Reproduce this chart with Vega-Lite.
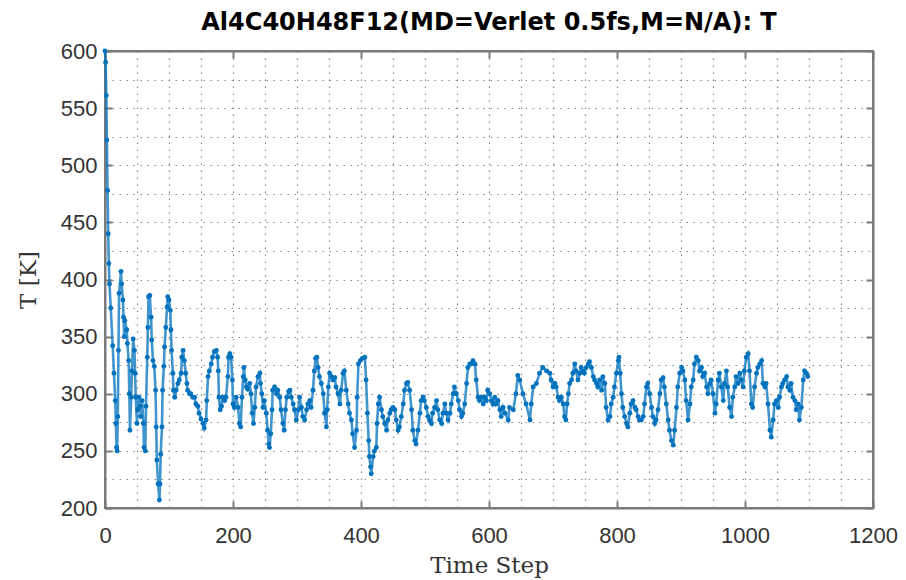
{
"$schema": "https://vega.github.io/schema/vega-lite/v6.json",
"width": 768, "height": 457,
"autosize": {"type": "none"},
"padding": {"left": 105, "top": 51, "right": 33, "bottom": 72},
"background": "white",
"title": {"text": "Al4C40H48F12(MD=Verlet 0.5fs,M=N/A): T", "font": "DejaVu Sans", "fontSize": 24, "fontWeight": "bold", "color": "#000000", "offset": 5, "anchor": "middle"},
"config": {"view": {"stroke": "#7a7a7a", "strokeWidth": 2}},
"data": {"values": [
{"s":0,"T":600},{"s":1,"T":590},{"s":2,"T":561},{"s":3,"T":522},{"s":4,"T":478},{"s":5,"T":440},{"s":6,"T":414},{"s":7,"T":396},{"s":9,"T":375},{"s":12,"T":342},{"s":14,"T":318},{"s":16,"T":294},{"s":17,"T":274},{"s":18,"T":253},{"s":19,"T":250},{"s":20,"T":280},{"s":21,"T":338},{"s":22,"T":388},{"s":25,"T":407},{"s":26,"T":396},{"s":28,"T":382},{"s":29,"T":367},{"s":30,"T":350},{"s":31,"T":364},{"s":34,"T":356},{"s":35,"T":344},{"s":37,"T":329},{"s":38,"T":300},{"s":39,"T":268},{"s":41,"T":297},{"s":42,"T":320},{"s":44,"T":348},{"s":46,"T":338},{"s":47,"T":318},{"s":48,"T":297},{"s":50,"T":274},{"s":51,"T":286},{"s":53,"T":297},{"s":55,"T":289},{"s":56,"T":280},{"s":58,"T":294},{"s":60,"T":274},{"s":61,"T":253},{"s":63,"T":250},{"s":64,"T":289},{"s":66,"T":332},{"s":67,"T":358},{"s":68,"T":385},{"s":70,"T":386},{"s":72,"T":367},{"s":73,"T":347},{"s":75,"T":329},{"s":77,"T":324},{"s":79,"T":303},{"s":80,"T":271},{"s":81,"T":242},{"s":83,"T":221},{"s":85,"T":207},{"s":86,"T":221},{"s":87,"T":247},{"s":89,"T":271},{"s":90,"T":303},{"s":92,"T":324},{"s":93,"T":341},{"s":95,"T":358},{"s":97,"T":376},{"s":98,"T":385},{"s":100,"T":382},{"s":102,"T":373},{"s":103,"T":356},{"s":104,"T":338},{"s":106,"T":318},{"s":107,"T":303},{"s":109,"T":297},{"s":111,"T":303},{"s":114,"T":309},{"s":116,"T":312},{"s":119,"T":318},{"s":120,"T":332},{"s":122,"T":338},{"s":124,"T":329},{"s":126,"T":318},{"s":128,"T":309},{"s":129,"T":303},{"s":132,"T":300},{"s":134,"T":300},{"s":137,"T":297},{"s":140,"T":297},{"s":142,"T":291},{"s":145,"T":289},{"s":147,"T":283},{"s":150,"T":278},{"s":153,"T":274},{"s":155,"T":270},{"s":158,"T":277},{"s":159,"T":294},{"s":161,"T":315},{"s":163,"T":320},{"s":166,"T":326},{"s":168,"T":332},{"s":171,"T":337},{"s":174,"T":338},{"s":176,"T":332},{"s":177,"T":320},{"s":178,"T":297},{"s":180,"T":286},{"s":182,"T":289},{"s":184,"T":297},{"s":187,"T":294},{"s":189,"T":297},{"s":192,"T":315},{"s":193,"T":332},{"s":195,"T":335},{"s":197,"T":332},
{"s":199,"T":312},{"s":200,"T":291},{"s":202,"T":288},{"s":205,"T":297},{"s":208,"T":288},{"s":210,"T":274},{"s":212,"T":271},{"s":214,"T":297},{"s":216,"T":315},{"s":217,"T":323},{"s":219,"T":312},{"s":221,"T":306},{"s":223,"T":304},{"s":226,"T":309},{"s":228,"T":300},{"s":230,"T":283},{"s":232,"T":274},{"s":234,"T":288},{"s":236,"T":306},{"s":239,"T":315},{"s":242,"T":318},{"s":243,"T":309},{"s":245,"T":300},{"s":247,"T":288},{"s":249,"T":294},{"s":252,"T":283},{"s":254,"T":268},{"s":256,"T":256},{"s":257,"T":253},{"s":259,"T":265},{"s":261,"T":286},{"s":262,"T":303},{"s":265,"T":306},{"s":268,"T":300},{"s":270,"T":303},{"s":273,"T":297},{"s":275,"T":286},{"s":278,"T":274},{"s":280,"T":268},{"s":282,"T":286},{"s":284,"T":297},{"s":287,"T":302},{"s":289,"T":303},{"s":291,"T":297},{"s":294,"T":291},{"s":296,"T":286},{"s":299,"T":277},{"s":302,"T":286},{"s":304,"T":297},{"s":307,"T":288},{"s":309,"T":280},{"s":312,"T":277},{"s":315,"T":286},{"s":317,"T":291},{"s":320,"T":294},{"s":322,"T":288},{"s":325,"T":303},{"s":327,"T":320},{"s":329,"T":331},{"s":331,"T":332},{"s":333,"T":323},{"s":335,"T":315},{"s":338,"T":309},{"s":341,"T":300},{"s":343,"T":283},{"s":346,"T":271},{"s":347,"T":286},{"s":349,"T":306},{"s":351,"T":318},{"s":354,"T":315},{"s":356,"T":312},{"s":359,"T":314},{"s":361,"T":306},{"s":364,"T":300},{"s":367,"T":291},{"s":369,"T":303},{"s":372,"T":318},{"s":374,"T":320},{"s":377,"T":303},{"s":380,"T":291},{"s":382,"T":283},{"s":385,"T":277},{"s":387,"T":265},{"s":390,"T":253},{"s":393,"T":268},{"s":394,"T":297},{"s":396,"T":326},{"s":399,"T":329},{"s":402,"T":331},
{"s":406,"T":332},{"s":408,"T":312},{"s":410,"T":283},{"s":412,"T":259},{"s":413,"T":245},{"s":415,"T":236},{"s":416,"T":230},{"s":419,"T":245},{"s":421,"T":250},{"s":424,"T":253},{"s":425,"T":274},{"s":427,"T":291},{"s":429,"T":297},{"s":432,"T":286},{"s":434,"T":280},{"s":437,"T":274},{"s":440,"T":268},{"s":442,"T":277},{"s":445,"T":283},{"s":447,"T":286},{"s":450,"T":288},{"s":453,"T":286},{"s":455,"T":277},{"s":458,"T":268},{"s":460,"T":271},{"s":463,"T":280},{"s":466,"T":291},{"s":468,"T":303},{"s":471,"T":309},{"s":473,"T":310},{"s":476,"T":303},{"s":479,"T":286},{"s":481,"T":268},{"s":484,"T":259},{"s":486,"T":256},{"s":489,"T":268},{"s":492,"T":283},{"s":494,"T":294},{"s":497,"T":297},{"s":499,"T":294},{"s":502,"T":288},{"s":505,"T":280},{"s":507,"T":277},{"s":510,"T":274},{"s":512,"T":283},{"s":515,"T":288},{"s":518,"T":294},{"s":520,"T":286},{"s":523,"T":277},{"s":526,"T":274},{"s":528,"T":283},{"s":531,"T":291},{"s":533,"T":283},{"s":536,"T":277},{"s":539,"T":283},{"s":541,"T":291},{"s":544,"T":300},{"s":546,"T":306},{"s":549,"T":300},{"s":552,"T":294},{"s":554,"T":286},{"s":557,"T":280},{"s":559,"T":283},{"s":562,"T":291},{"s":565,"T":309},{"s":567,"T":323},{"s":570,"T":326},{"s":572,"T":326},{"s":575,"T":329},{"s":578,"T":326},{"s":580,"T":312},{"s":583,"T":297},{"s":585,"T":294},{"s":588,"T":297},{"s":591,"T":291},{"s":593,"T":297},{"s":596,"T":294},{"s":598,"T":303},{"s":601,"T":300},{"s":604,"T":294},{"s":606,"T":291},{"s":609,"T":297},{"s":611,"T":291},{"s":614,"T":294},{"s":617,"T":286},{"s":619,"T":280},{"s":622,"T":288},{"s":625,"T":283},{"s":630,"T":277},{"s":632,"T":288},{"s":638,"T":286},{"s":642,"T":300},{"s":645,"T":316},{"s":648,"T":312},{"s":653,"T":300},{"s":658,"T":291},{"s":664,"T":277},{"s":666,"T":291},{"s":669,"T":306},{"s":674,"T":309},{"s":679,"T":318},{"s":684,"T":323},{"s":690,"T":320},{"s":695,"T":318},
{"s":697,"T":312},{"s":700,"T":306},{"s":703,"T":309},{"s":705,"T":306},{"s":708,"T":297},{"s":710,"T":294},{"s":713,"T":297},{"s":716,"T":291},{"s":718,"T":280},{"s":720,"T":277},{"s":722,"T":291},{"s":724,"T":300},{"s":726,"T":309},{"s":729,"T":312},{"s":731,"T":318},{"s":734,"T":326},{"s":736,"T":320},{"s":739,"T":312},{"s":742,"T":318},{"s":744,"T":323},{"s":747,"T":320},{"s":749,"T":318},{"s":752,"T":323},{"s":755,"T":326},{"s":757,"T":328},{"s":760,"T":323},{"s":763,"T":315},{"s":765,"T":312},{"s":768,"T":309},{"s":770,"T":306},{"s":773,"T":312},{"s":776,"T":303},{"s":778,"T":315},{"s":781,"T":309},{"s":783,"T":288},{"s":786,"T":277},{"s":789,"T":280},{"s":791,"T":291},{"s":794,"T":297},{"s":796,"T":306},{"s":799,"T":318},{"s":802,"T":329},{"s":803,"T":332},{"s":805,"T":318},{"s":807,"T":300},{"s":809,"T":288},{"s":812,"T":280},{"s":815,"T":274},{"s":817,"T":271},{"s":820,"T":283},{"s":822,"T":291},{"s":825,"T":294},{"s":828,"T":288},{"s":830,"T":286},{"s":833,"T":280},{"s":835,"T":277},{"s":838,"T":277},{"s":841,"T":280},{"s":843,"T":291},{"s":846,"T":306},{"s":848,"T":309},{"s":851,"T":300},{"s":854,"T":288},{"s":856,"T":280},{"s":859,"T":274},{"s":861,"T":277},{"s":864,"T":286},{"s":867,"T":300},{"s":869,"T":312},{"s":872,"T":314},{"s":874,"T":306},{"s":877,"T":291},{"s":880,"T":277},{"s":882,"T":268},{"s":885,"T":259},{"s":888,"T":255},{"s":890,"T":268},{"s":893,"T":288},{"s":895,"T":306},{"s":898,"T":318},{"s":901,"T":323},{"s":903,"T":320},{"s":906,"T":312},{"s":908,"T":294},{"s":911,"T":277},{"s":914,"T":291},{"s":916,"T":306},{"s":919,"T":312},{"s":921,"T":326},{"s":924,"T":332},{"s":927,"T":329},{"s":929,"T":320},{"s":932,"T":323},{"s":934,"T":315},{"s":937,"T":318},{"s":940,"T":306},{"s":942,"T":300},{"s":945,"T":309},{"s":947,"T":312},{"s":950,"T":300},{"s":953,"T":283},{"s":955,"T":291},{"s":958,"T":312},{"s":960,"T":318},{"s":963,"T":306},{"s":966,"T":294},{"s":968,"T":309},{"s":971,"T":320},{"s":973,"T":306},{"s":976,"T":288},{"s":979,"T":280},{"s":981,"T":297},{"s":984,"T":306},{"s":986,"T":315},{"s":989,"T":309},{"s":992,"T":318},{"s":994,"T":312},{"s":997,"T":306},{"s":999,"T":320},{"s":1002,"T":332},{"s":1005,"T":335},{"s":1007,"T":320},{"s":1010,"T":291},{"s":1012,"T":288},{"s":1015,"T":306},{"s":1018,"T":318},{"s":1020,"T":323},{"s":1023,"T":326},{"s":1026,"T":329},{"s":1028,"T":309},{"s":1031,"T":306},{"s":1033,"T":309},{"s":1036,"T":291},{"s":1039,"T":268},{"s":1041,"T":262},{"s":1044,"T":277},{"s":1046,"T":291},{"s":1049,"T":294},{"s":1052,"T":288},{"s":1054,"T":297},{"s":1057,"T":306},{"s":1059,"T":309},{"s":1062,"T":312},{"s":1065,"T":315},{"s":1067,"T":306},{"s":1070,"T":303},{"s":1072,"T":309},{"s":1075,"T":297},{"s":1078,"T":294},{"s":1080,"T":286},{"s":1083,"T":291},{"s":1085,"T":277},{"s":1088,"T":288},{"s":1091,"T":312},{"s":1093,"T":320},{"s":1096,"T":318},{"s":1098,"T":315}
]},
"resolve": {"axis": {"x": "independent", "y": "independent"}},
"layer": [
{"mark": {"type": "line", "color": "#0072BD", "strokeWidth": 2.6, "opacity": 0.75, "point": {"filled": true, "size": 24, "color": "#0072BD", "opacity": 1}},
 "encoding": {
  "x": {"field": "s", "type": "quantitative", "scale": {"domain": [0, 1200], "nice": false},
   "axis": {"orient": "bottom", "values": [0,50,100,150,200,250,300,350,400,450,500,550,600,650,700,750,800,850,900,950,1000,1050,1100,1150,1200], "format": "d", "labelExpr": "datum.value % 200 === 0 ? datum.label : ''", "labelOverlap": false, "labelFlush": false, "grid": true, "gridDash": [1.5, 5.5], "gridColor": "#8a8a8a", "gridWidth": 1.2, "tickSize": -7, "tickWidth": 2, "tickColor": "#7a7a7a", "tickOpacity": {"condition": {"test": "datum.value % 200 === 0", "value": 1}, "value": 0}, "domainColor": "#7a7a7a", "domainWidth": 2, "labelFont": "Liberation Sans", "labelFontSize": 22, "labelColor": "#333333", "labelPadding": 24, "title": "Time Step", "titleFont": "DejaVu Serif", "titleFontSize": 23, "titleFontWeight": "normal", "titleColor": "#333333", "titlePadding": 8}},
  "y": {"field": "T", "type": "quantitative", "scale": {"domain": [200, 600], "nice": false, "zero": false},
   "axis": {"orient": "left", "values": [200,225,250,275,300,325,350,375,400,425,450,475,500,525,550,575,600], "format": "d", "labelExpr": "datum.value % 50 === 0 ? datum.label : ''", "labelOverlap": false, "labelFlush": false, "grid": true, "gridDash": [1.5, 5.5], "gridColor": "#8a8a8a", "gridWidth": 1.2, "tickSize": -7, "tickWidth": 2, "tickColor": "#7a7a7a", "tickOpacity": {"condition": {"test": "datum.value % 50 === 0", "value": 1}, "value": 0}, "domainColor": "#7a7a7a", "domainWidth": 2, "labelFont": "Liberation Sans", "labelFontSize": 22, "labelColor": "#333333", "labelPadding": 15, "title": "T [K]", "titleFont": "DejaVu Serif", "titleFontSize": 23, "titleFontWeight": "normal", "titleColor": "#333333", "titlePadding": 20}}
 }},
{"mark": {"type": "line", "opacity": 0},
 "encoding": {
  "x": {"field": "s", "type": "quantitative", "axis": {"orient": "top", "values": [0,200,400,600,800,1000,1200], "labels": false, "grid": false, "title": null, "tickSize": -7, "tickWidth": 2, "tickColor": "#7a7a7a", "domainColor": "#7a7a7a", "domainWidth": 2}},
  "y": {"field": "T", "type": "quantitative", "axis": {"orient": "right", "values": [200,250,300,350,400,450,500,550,600], "labels": false, "grid": false, "title": null, "tickSize": -7, "tickWidth": 2, "tickColor": "#7a7a7a", "domainColor": "#7a7a7a", "domainWidth": 2}}
 }}
]
}
